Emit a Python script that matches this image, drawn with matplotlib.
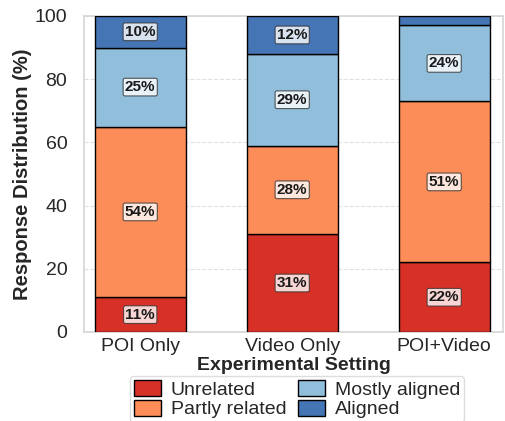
import matplotlib
matplotlib.use("Agg")
import matplotlib.pyplot as plt
import numpy as np
import seaborn as sns

sns.set_style("whitegrid")
plt.rcParams['font.family'] = ['Liberation Sans', 'DejaVu Sans']

settings = ["POI Only", "Video Only", "POI+Video"]
categories = ["Unrelated", "Partly related", "Mostly aligned", "Aligned"]
unrelated = [11, 31, 22]
partly_related = [54, 28, 51]
mostly_aligned = [25, 29, 24]
aligned = [10, 12, 3]
yticks = [0, 20, 40, 60, 80, 100]

series = [unrelated, partly_related, mostly_aligned, aligned]
colors = ["#d73027", "#fc8d59", "#91bfdb", "#4575b4"]

fig = plt.figure(figsize=(5.05, 4.21), dpi=100)
ax = fig.add_axes([84 / 505, 1 - 332 / 421, 419 / 505, 316 / 421])

x = np.arange(len(settings))
bottom = np.zeros(len(settings))
for name, vals, col in zip(categories, series, colors):
    vals = np.array(vals, dtype=float)
    ax.bar(x, vals, width=0.6, bottom=bottom, color=col, edgecolor="black",
           linewidth=1.0, label=name, zorder=3)
    for xi, b, v in zip(x, bottom, vals):
        if v >= 5:
            ax.text(xi, b + v / 2, f"{int(v)}%", ha="center", va="center",
                    fontsize=11, fontweight="bold", color="#1a1a1a", zorder=5,
                    bbox=dict(boxstyle="round,pad=0.12", facecolor="white",
                              alpha=0.8, edgecolor="#333333", linewidth=0.8))
    bottom += vals

ax.set_xlim(-0.37, 2.387)
ax.set_ylim(0, 100)
ax.set_yticks(yticks)
ax.set_xticks(x)
ax.set_xticklabels(settings, fontsize=14, color="#262626")
ax.tick_params(axis="y", labelsize=14, labelcolor="#262626", pad=12)
ax.tick_params(axis="x", pad=4)
ax.tick_params(axis="both", length=0)
ax.xaxis.grid(False)
ax.yaxis.grid(True, linestyle="--", color="#e0e0e0", linewidth=0.8)
ax.set_axisbelow(True)
for s in ax.spines.values():
    s.set_color("#d5d5d5")
    s.set_linewidth(1.2)

ax.set_ylabel("Response Distribution (%)", fontsize=14.5, fontweight="bold",
              color="#262626", labelpad=2)
ax.set_xlabel("Experimental Setting", fontsize=14, fontweight="bold",
              color="#262626", labelpad=2)

leg = ax.legend(loc="upper center", bbox_to_anchor=(0.508, -0.139), ncol=2,
                fontsize=14, frameon=True, handlelength=1.4, handleheight=0.9,
                columnspacing=0.6, handletextpad=0.5, labelspacing=0.05,
                borderpad=0.2, borderaxespad=0, fancybox=True)
leg.get_frame().set_edgecolor("#d5d5d5")
for t in leg.get_texts():
    t.set_color("#262626")

fig.savefig("out.png", dpi=100)
